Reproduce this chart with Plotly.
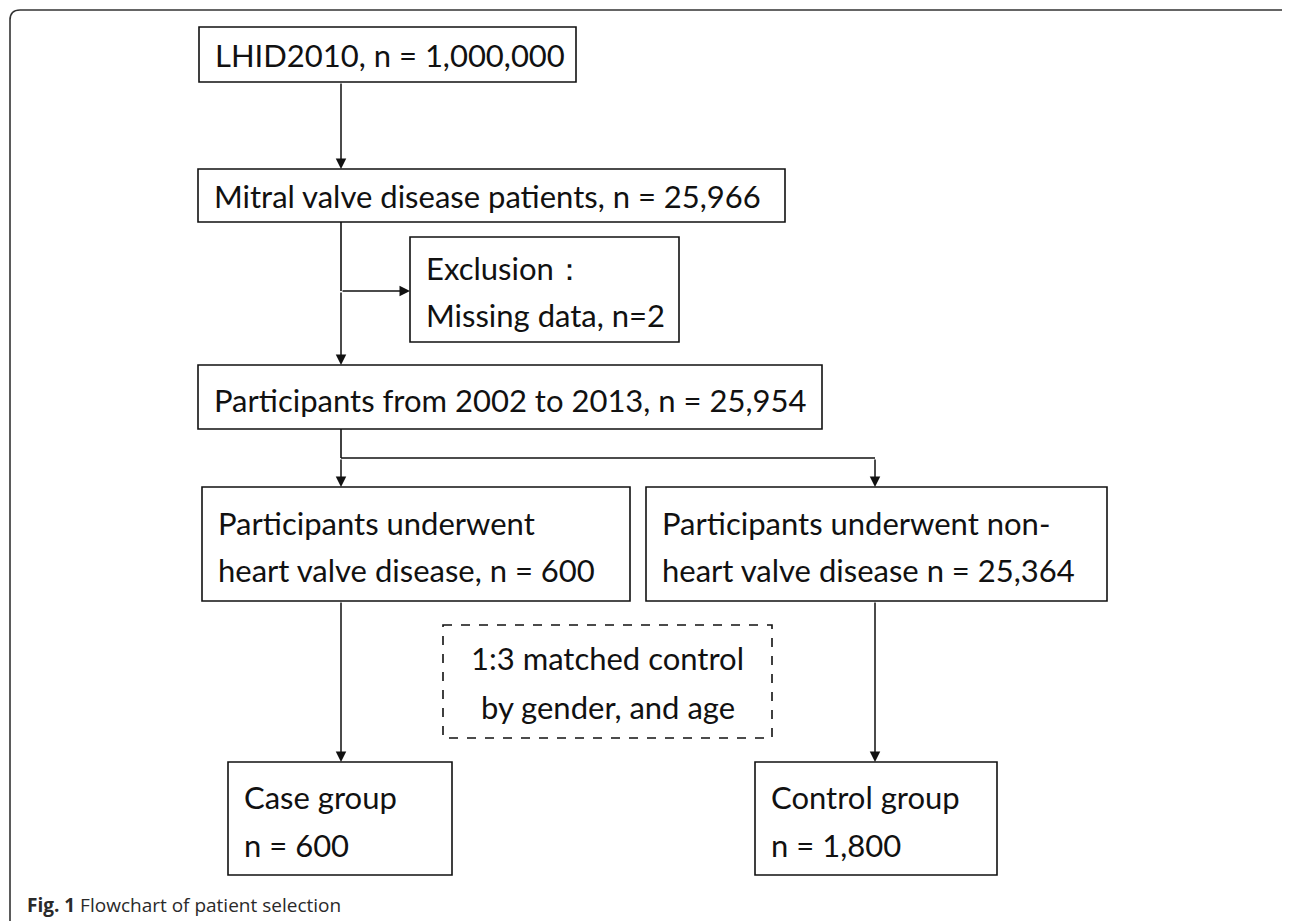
import plotly.graph_objects as go

# ---- flowchart text (content) ----
top_lines = ["LHID2010, n = 1,000,000"]
mitral_lines = ["Mitral valve disease patients, n = 25,966"]
exclusion_lines = ["Exclusion：", "Missing data, n=2"]
period_lines = ["Participants from 2002 to 2013, n = 25,954"]
case_src_lines = ["Participants underwent", "heart valve disease, n = 600"]
ctrl_src_lines = ["Participants underwent non-", "heart valve disease n = 25,364"]
match_lines = ["1:3 matched control", "by gender, and age"]
case_lines = ["Case group", "n = 600"]
ctrl_lines = ["Control group", "n = 1,800"]
caption_bold = "Fig. 1"
caption_text = "Flowchart of patient selection"

W, H = 1290, 921
OFF = 8  # page body margin, so data coords == page pixels
FONT = "Lato"
FS = 31
LINE = "#111111"

# box geometry: x0, y0, x1, y1 (page pixels, y downwards) + text line y's
boxes = [
    dict(lines=top_lines, rect=(199, 27, 576, 82), ty=[55]),
    dict(lines=mitral_lines, rect=(198, 169, 785, 222), ty=[196]),
    dict(lines=exclusion_lines, rect=(410, 237, 679, 342), ty=[268, 315]),
    dict(lines=period_lines, rect=(198, 365, 822, 429), ty=[400]),
    dict(lines=case_src_lines, rect=(202, 487, 630, 601), ty=[523, 570]),
    dict(lines=ctrl_src_lines, rect=(646, 487, 1107, 601), ty=[523, 570]),
    dict(lines=match_lines, rect=(443, 625, 772, 738), ty=[658, 707], dash=True, center=True),
    dict(lines=case_lines, rect=(228, 762, 452, 875), ty=[797, 845]),
    dict(lines=ctrl_lines, rect=(755, 762, 997, 875), ty=[797, 845]),
]

shapes = []
annotations = []

# outer rounded frame
shapes.append(dict(
    type="path",
    path=f"M 10,{H + 20} L 10,20 Q 10,10 20,10 L 1282,10 Q 1290,10 1292,16",
    line=dict(color="#333333", width=1.6),
    layer="below",
))

for b in boxes:
    x0, y0, x1, y1 = b["rect"]
    shapes.append(dict(
        type="rect", x0=x0, y0=y0, x1=x1, y1=y1,
        line=dict(color=LINE, width=1.6, dash="dash" if b.get("dash") else "solid"),
        fillcolor="rgba(0,0,0,0)",
    ))
    for txt, ty in zip(b["lines"], b["ty"]):
        annotations.append(dict(
            x=(x0 + x1) / 2 if b.get("center") else x0 + 14,
            y=ty,
            xref="x", yref="y",
            text=txt, showarrow=False,
            xanchor="center" if b.get("center") else "left",
            yanchor="middle",
            font=dict(family=FONT, size=FS, color=LINE),
        ))

# connectors without heads
plain_lines = [
    (341, 222, 341, 291),
    (341, 429, 341, 458),
    (341, 458, 875, 458),
]
for x0, y0, x1, y1 in plain_lines:
    shapes.append(dict(type="line", x0=x0, y0=y0, x1=x1, y1=y1,
                       line=dict(color=LINE, width=1.6)))

# arrows: (from_x, from_y, to_x, to_y)
arrows = [
    (341, 82, 341, 169),
    (341, 291, 341, 365),
    (341, 291, 410, 291),
    (341, 458, 341, 487),
    (875, 458, 875, 487),
    (341, 601, 341, 762),
    (875, 601, 875, 762),
]
for ax, ay, x, y in arrows:
    annotations.append(dict(
        x=x, y=y, ax=ax, ay=ay,
        xref="x", yref="y", axref="x", ayref="y",
        text="", showarrow=True,
        arrowhead=2, arrowsize=1.4, arrowwidth=1.5, arrowcolor=LINE,
        standoff=0,
    ))

# caption
annotations.append(dict(
    x=25, y=905, xref="x", yref="y",
    text=f"<b>{caption_bold}</b> {caption_text}",
    showarrow=False, xanchor="left", yanchor="middle",
    font=dict(family="Open Sans", size=19, color="#2a2a2a"),
))

fig = go.Figure()
fig.update_layout(
    width=W, height=H,
    margin=dict(l=0, r=0, t=0, b=0),
    paper_bgcolor="white",
    plot_bgcolor="white",
    xaxis=dict(range=[OFF, W + OFF], visible=False, fixedrange=True),
    yaxis=dict(range=[H + OFF, OFF], visible=False, fixedrange=True),
    shapes=shapes,
    annotations=annotations,
    showlegend=False,
)

fig.write_html("out.html")
